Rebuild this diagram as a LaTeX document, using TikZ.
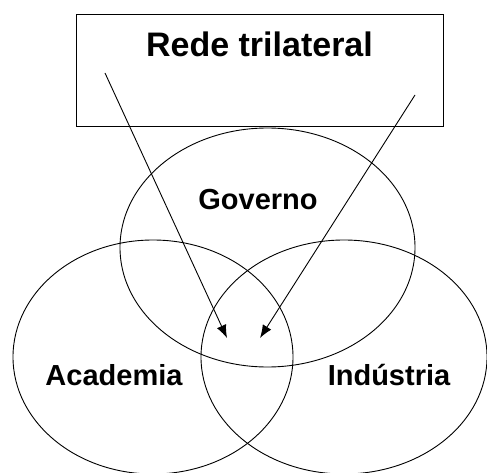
\documentclass[tikz,border=0pt]{standalone}
\usepackage{fontspec}
\setmainfont{Liberation Sans}
\usetikzlibrary{shapes.geometric}
\usetikzlibrary{arrows.meta}
\usetikzlibrary{positioning}

\tikzset{
  rede box/.style={draw, rectangle, inner sep=0pt, minimum width=367pt, minimum height=112pt},
  conjunto/.style={draw, ellipse, inner sep=0pt},
  rotulo/.style={anchor=base, inner sep=0pt, font=\bfseries\fontsize{29}{33}\selectfont},
  seta/.style={-{Latex[length=13pt,width=10pt]}},
}

\begin{document}
\begin{tikzpicture}[x=1pt, y=-1pt, line width=0.9pt]
  \useasboundingbox (0,0) rectangle (487,473);

  % caixa da rede
  \node[rede box] (rede) at (259.5,70) {};
  \node[rotulo, font=\bfseries\fontsize{34}{40}\selectfont] (titulo) at (259.5,57) {Rede trilateral};

  % as tres esferas
  \node[conjunto, minimum width=295pt, minimum height=239pt] (gov) at (267.5,247.5) {};
  \node[conjunto, minimum width=280pt, minimum height=234pt] (acad) at (153,357) {};
  \node[conjunto, minimum width=286pt, minimum height=234pt] (ind) at (344,357) {};

  \node[rotulo] (tgov) at (258,209) {Governo};
  \node[rotulo] (tacad) at (114,385) {Academia};
  \node[rotulo] (tind) at (389,385) {Indústria};

  % setas
  \coordinate (ini1) at (105,73);
  \coordinate (ini2) at (415,95);
  \coordinate (fim1) at (227,338);
  \coordinate (fim2) at (260,338);
  \draw[seta] (ini1) -- (fim1);
  \draw[seta] (ini2) -- (fim2);
\end{tikzpicture}
\end{document}
